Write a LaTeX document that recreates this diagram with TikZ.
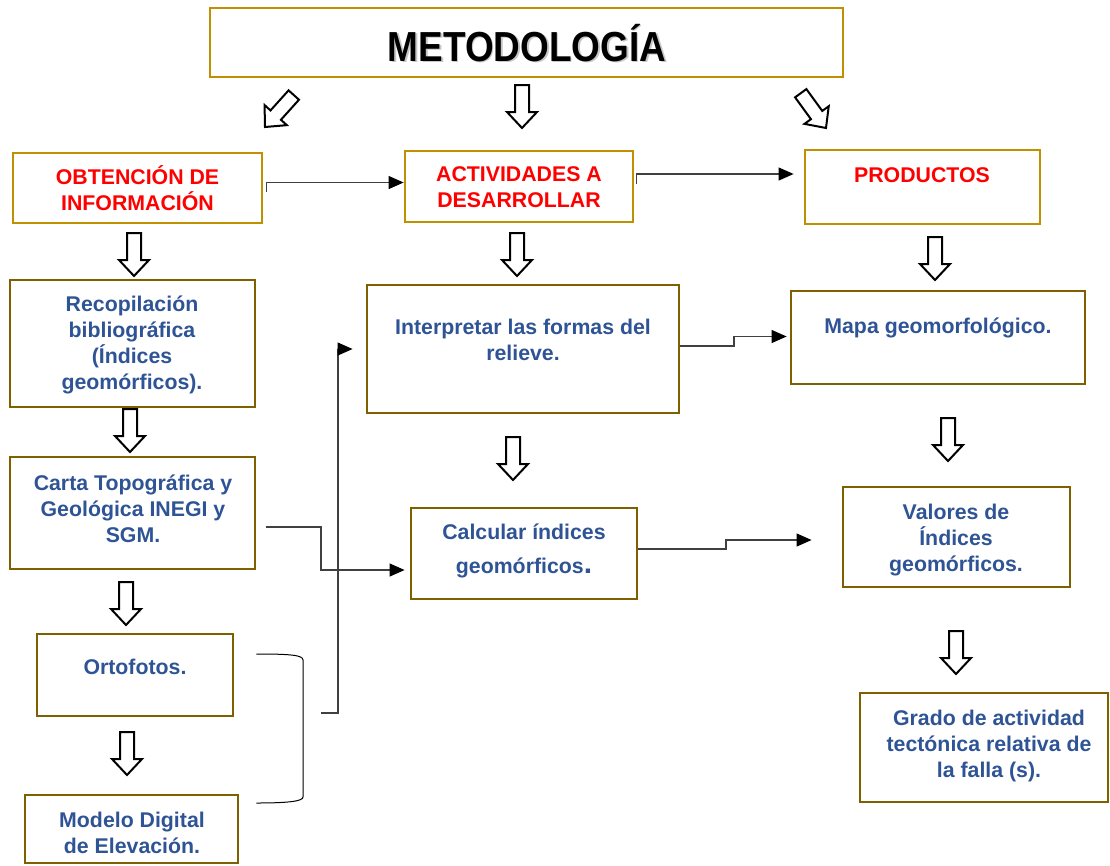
\documentclass[tikz,border=0pt]{standalone}
\usepackage{fontspec}
\usepackage{graphicx}
\setmainfont{Liberation Sans}
\usetikzlibrary{arrows.meta,calc}
\definecolor{goldA}{RGB}{191,144,0}
\definecolor{goldB}{RGB}{127,96,0}
\definecolor{txtblue}{RGB}{47,84,150}
\definecolor{lineg}{RGB}{64,64,64}
\begin{document}
\begin{tikzpicture}[x=1pt,y=-1pt,
 boxA/.style={draw=goldA, line width=2.8pt, inner sep=0pt, fill=white},
 boxB/.style={draw=goldB, line width=2.8pt, inner sep=0pt, fill=white},
 redt/.style={text=red, font=\fontsize{21.3}{26}\selectfont\bfseries, align=center, inner sep=0pt},
 bluet/.style={text=txtblue, font=\fontsize{21.3}{26}\selectfont\bfseries, align=center, inner sep=0pt},
 conn/.style={draw=lineg, line width=1.1pt, -{Triangle[length=15pt,width=13pt,color=black]}},
 harrow/.pic={\draw[line width=2pt, fill=white, line join=miter]
   (-7,-43) -- (7,-43) -- (7,-16) -- (15,-16) -- (0,0) -- (-15,-16) -- (-7,-16) -- cycle;}
]
\useasboundingbox (0,0) rectangle (1110,865);
\fill[white] (0,0) rectangle (1110,865);

% boxes
\node[boxA, minimum width=633pt, minimum height=69pt] (title) at (526.5,42.5) {};
\node[boxA, minimum width=249pt, minimum height=70pt] (obt) at (137.5,188) {};
\node[boxA, minimum width=228pt, minimum height=71pt] (act) at (519,186.5) {};
\node[boxA, minimum width=235pt, minimum height=74pt] (prod) at (922.5,187) {};
\node[boxB, minimum width=245pt, minimum height=127pt] (recop) at (132.5,343.5) {};
\node[boxB, minimum width=245pt, minimum height=112pt] (carta) at (132.5,513) {};
\node[boxB, minimum width=196pt, minimum height=82pt] (orto) at (135,675) {};
\node[boxB, minimum width=213pt, minimum height=68pt] (modelo) at (131.5,829) {};
\node[boxB, minimum width=312pt, minimum height=128pt] (interp) at (523,349) {};
\node[boxB, minimum width=226pt, minimum height=91pt] (calc) at (524,553.5) {};
\node[boxB, minimum width=294pt, minimum height=93pt] (mapa) at (938,337.5) {};
\node[boxB, minimum width=227pt, minimum height=100pt] (valores) at (956.5,537) {};
\node[boxB, minimum width=248pt, minimum height=109pt] (grado) at (984,747.5) {};

% texts
\node[text=black!22, inner sep=0pt] (ttlshadow) at (528.5,44.5) {\fontsize{42}{42}\selectfont\bfseries\scalebox{0.88}[1]{METODOLOGÍA}};
\node[text=black, inner sep=0pt] (ttl) at (527,43) {\fontsize{42}{42}\selectfont\bfseries\scalebox{0.88}[1]{METODOLOGÍA}};
\node[redt] (obtT) at (137.5,188) {OBTENCIÓN DE\\INFORMACIÓN};
\node[redt] (actT) at (519,187) {ACTIVIDADES A\\DESARROLLAR};
\node[redt] (prodT) at (922,175) {PRODUCTOS};
\node[bluet] (recopT) at (132,345) {Recopilación\\bibliográfica\\(Índices\\geomórficos).};
\node[bluet] (cartaT) at (133,509) {Carta Topográfica y\\Geológica INEGI y\\SGM.};
\node[bluet] (ortoT) at (135,667) {Ortofotos.};
\node[bluet] (modeloT) at (132,833) {Modelo Digital\\de Elevación.};
\node[bluet] (interpT) at (523,340) {Interpretar las formas del\\relieve.};
\node[bluet, font=\fontsize{21.3}{34}\selectfont\bfseries] (calcT) at (524,551) {Calcular índices\\geomórficos{\fontsize{30}{34}\selectfont.}};
\node[bluet] (mapaT) at (938,328) {Mapa geomorfológico.};
\node[bluet] (valoresT) at (956,540) {Valores de\\Índices\\geomórficos.};
\node[bluet] (gradoT) at (989,746) {Grado de actividad\\tectónica relativa de\\la falla (s).};

% hollow block arrows
\pic[rotate=-42] at (265,127) {harrow};
\pic at (522,128) {harrow};
\pic[rotate=36] at (826,128) {harrow};
\pic at (134,276) {harrow};
\pic at (517,276) {harrow};
\pic at (935,280) {harrow};
\pic at (130,452) {harrow};
\pic at (126,625) {harrow};
\pic at (127,775) {harrow};
\pic at (513,480) {harrow};
\pic at (948,461) {harrow};
\pic at (956,674) {harrow};

% connectors
\draw[conn] ($(obt.east)+(3,4)$) |- ($(act.west)+(0,-4)$);
\draw[conn] ($(act.east)+(2,-3)$) |- ($(prod.west)+(-10,-13)$);
\draw[conn] ($(interp.east)+(0,-3)$) -- (734,346) -- (734,336.5) -- ($(mapa.west)+(-3,-1)$);
\draw[conn] ($(calc.east)+(0,-4.5)$) -- (726,549) -- (726,540) -- ($(valores.west)+(-30,3)$);
\draw[conn] ($(carta.east)+(10,14)$) -| (321,570) -- ($(calc.west)+(-5,16.5)$);

% bracket grouping Ortofotos and Modelo
\coordinate (brTop) at ($(orto.east)+(22,-21)$);
\coordinate (brBot) at ($(modelo.east)+(17,-26)$);
\draw[black, line width=1pt] (brTop) .. controls (290,654) and (303,655) .. (303,660) -- (303,797) .. controls (303,801) and (290,803) .. (brBot);
\coordinate (grp) at (321,713);
\draw[conn] (grp) -- (338,713) |- ($(interp.west)+(-13,0)$);
\end{tikzpicture}
\end{document}
